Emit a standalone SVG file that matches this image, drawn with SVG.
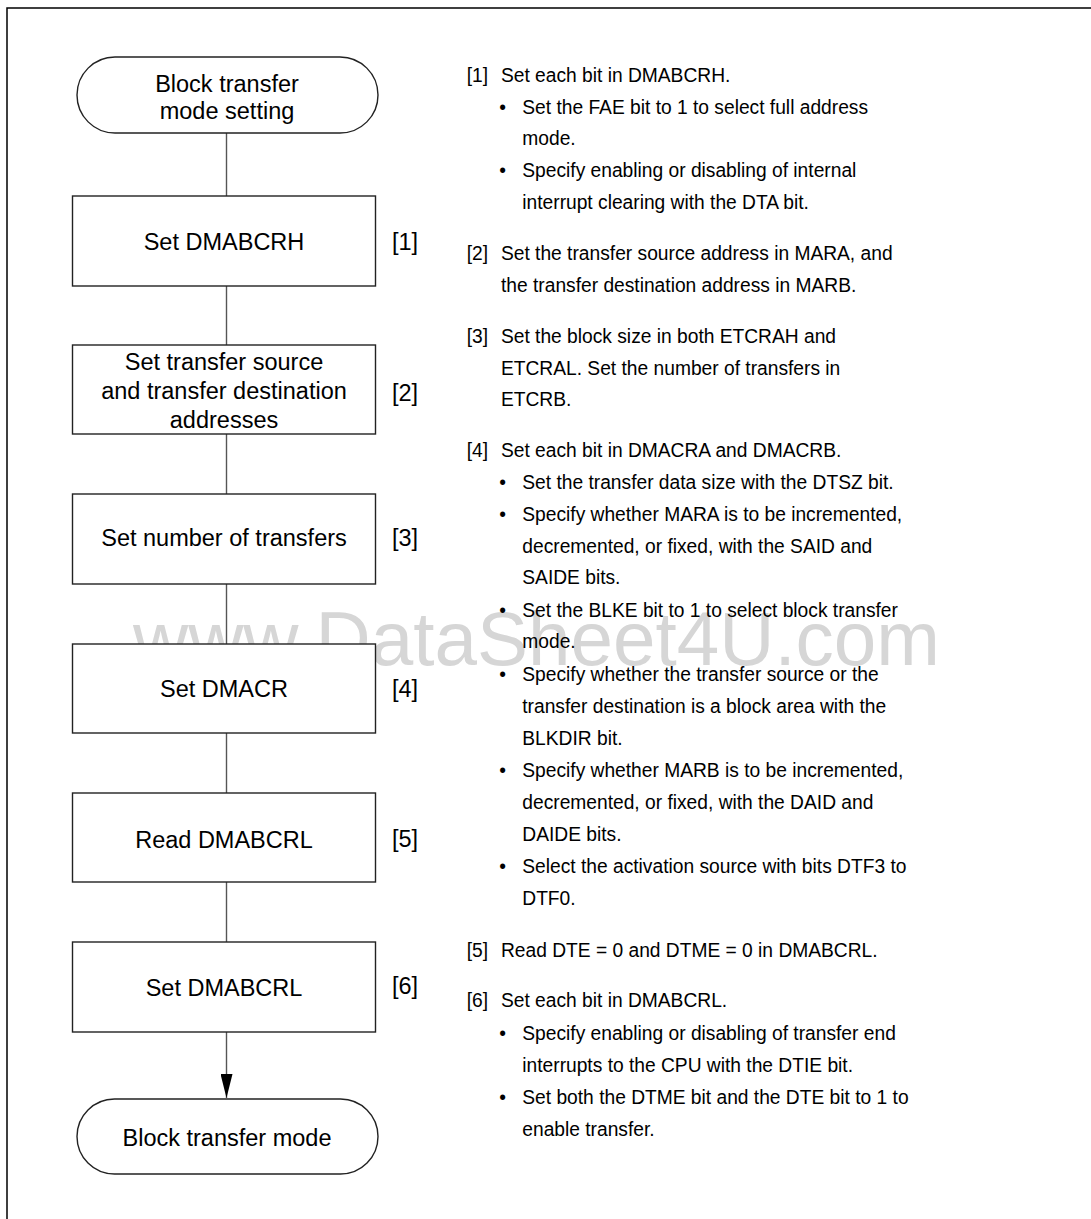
<svg xmlns="http://www.w3.org/2000/svg" width="1091" height="1219" viewBox="0 0 1091 1219">
<style>
.bg{fill:#ffffff}
.frame{stroke:#000;stroke-width:1.5;fill:none}
.wm{font-family:"Liberation Sans",Arial,sans-serif;font-size:76px;fill:#d6d6d6}
.box{fill:#fff;stroke:#222;stroke-width:1.4}
.lbl{font-family:"Liberation Sans",Arial,sans-serif;font-size:23.5px;fill:#000;text-anchor:middle}
.num{font-family:"Liberation Sans",Arial,sans-serif;font-size:23.5px;fill:#000}
.conn{stroke:#555;stroke-width:1.4;fill:none}
.rt{font-family:"Liberation Sans",Arial,sans-serif;font-size:21px;fill:#000}
</style>
<defs>
<marker id="arr" viewBox="0 0 24 12" refX="24" refY="6" markerWidth="24" markerHeight="12" markerUnits="userSpaceOnUse" orient="auto">
<path d="M0,0 L24,6 L0,12 Z" fill="#000"/>
</marker>
</defs>
<rect class="bg" x="0" y="0" width="1091" height="1219"/>
<path class="frame" d="M7,1219 V8 H1091"/>
<text class="wm" x="133" y="665" textLength="807" lengthAdjust="spacingAndGlyphs">www.DataSheet4U.com</text>

<g id="connectors">
<line class="conn" x1="226.5" y1="133" x2="226.5" y2="196"/>
<line class="conn" x1="226.5" y1="286" x2="226.5" y2="345"/>
<line class="conn" x1="226.5" y1="434" x2="226.5" y2="494"/>
<line class="conn" x1="226.5" y1="584" x2="226.5" y2="644"/>
<line class="conn" x1="226.5" y1="733" x2="226.5" y2="793"/>
<line class="conn" x1="226.5" y1="882" x2="226.5" y2="942"/>
<line class="conn" x1="226.5" y1="1032" x2="226.5" y2="1098" marker-end="url(#arr)"/>
</g>

<g id="start">
<rect class="box" x="77" y="57" width="301" height="76" rx="38" ry="38"/>
<text class="lbl" x="227" y="92">Block transfer</text>
<text class="lbl" x="227" y="119">mode setting</text>
</g>
<g id="step1">
<rect class="box" x="72.5" y="196" width="303" height="90"/>
<text class="lbl" x="224" y="250">Set DMABCRH</text>
<text class="num" x="392" y="250">[1]</text>
</g>
<g id="step2">
<rect class="box" x="72.5" y="345" width="303" height="89"/>
<text class="lbl" x="224" y="370">Set transfer source</text>
<text class="lbl" x="224" y="399">and transfer destination</text>
<text class="lbl" x="224" y="428">addresses</text>
<text class="num" x="392" y="401">[2]</text>
</g>
<g id="step3">
<rect class="box" x="72.5" y="494" width="303" height="90"/>
<text class="lbl" x="224" y="546">Set number of transfers</text>
<text class="num" x="392" y="546">[3]</text>
</g>
<g id="step4">
<rect class="box" x="72.5" y="644" width="303" height="89"/>
<text class="lbl" x="224" y="697">Set DMACR</text>
<text class="num" x="392" y="697">[4]</text>
</g>
<g id="step5">
<rect class="box" x="72.5" y="793" width="303" height="89"/>
<text class="lbl" x="224" y="848">Read DMABCRL</text>
<text class="num" x="392" y="847">[5]</text>
</g>
<g id="step6">
<rect class="box" x="72.5" y="942" width="303" height="90"/>
<text class="lbl" x="224" y="996">Set DMABCRL</text>
<text class="num" x="392" y="994">[6]</text>
</g>
<g id="end">
<rect class="box" x="77" y="1099" width="301" height="75" rx="37.5" ry="37.5"/>
<text class="lbl" x="227" y="1146">Block transfer mode</text>
</g>

<g id="notes" transform="scale(0.915,1)">
<text class="rt" x="510" y="82">[1]</text>
<text class="rt" x="547.5" y="82">Set each bit in DMABCRH.</text>
<text class="rt" x="545.5" y="114">•</text>
<text class="rt" x="570.8" y="114">Set the FAE bit to 1 to select full address</text>
<text class="rt" x="570.8" y="145">mode.</text>
<text class="rt" x="545.5" y="177">•</text>
<text class="rt" x="570.8" y="177">Specify enabling or disabling of internal</text>
<text class="rt" x="570.8" y="209">interrupt clearing with the DTA bit.</text>

<text class="rt" x="510" y="260">[2]</text>
<text class="rt" x="547.5" y="260">Set the transfer source address in MARA, and</text>
<text class="rt" x="547.5" y="292">the transfer destination address in MARB.</text>

<text class="rt" x="510" y="343">[3]</text>
<text class="rt" x="547.5" y="343">Set the block size in both ETCRAH and</text>
<text class="rt" x="547.5" y="375">ETCRAL. Set the number of transfers in</text>
<text class="rt" x="547.5" y="406">ETCRB.</text>

<text class="rt" x="510" y="457">[4]</text>
<text class="rt" x="547.5" y="457">Set each bit in DMACRA and DMACRB.</text>
<text class="rt" x="545.5" y="489">•</text>
<text class="rt" x="570.8" y="489">Set the transfer data size with the DTSZ bit.</text>
<text class="rt" x="545.5" y="521">•</text>
<text class="rt" x="570.8" y="521">Specify whether MARA is to be incremented,</text>
<text class="rt" x="570.8" y="553">decremented, or fixed, with the SAID and</text>
<text class="rt" x="570.8" y="584">SAIDE bits.</text>
<text class="rt" x="545.5" y="617">•</text>
<text class="rt" x="570.8" y="617">Set the BLKE bit to 1 to select block transfer</text>
<text class="rt" x="570.8" y="648">mode.</text>
<text class="rt" x="545.5" y="681">•</text>
<text class="rt" x="570.8" y="681">Specify whether the transfer source or the</text>
<text class="rt" x="570.8" y="713">transfer destination is a block area with the</text>
<text class="rt" x="570.8" y="745">BLKDIR bit.</text>
<text class="rt" x="545.5" y="777">•</text>
<text class="rt" x="570.8" y="777">Specify whether MARB is to be incremented,</text>
<text class="rt" x="570.8" y="809">decremented, or fixed, with the DAID and</text>
<text class="rt" x="570.8" y="841">DAIDE bits.</text>
<text class="rt" x="545.5" y="873">•</text>
<text class="rt" x="570.8" y="873">Select the activation source with bits DTF3 to</text>
<text class="rt" x="570.8" y="905">DTF0.</text>

<text class="rt" x="510" y="957">[5]</text>
<text class="rt" x="547.5" y="957">Read DTE = 0 and DTME = 0 in DMABCRL.</text>

<text class="rt" x="510" y="1007">[6]</text>
<text class="rt" x="547.5" y="1007">Set each bit in DMABCRL.</text>
<text class="rt" x="545.5" y="1040">•</text>
<text class="rt" x="570.8" y="1040">Specify enabling or disabling of transfer end</text>
<text class="rt" x="570.8" y="1072">interrupts to the CPU with the DTIE bit.</text>
<text class="rt" x="545.5" y="1104">•</text>
<text class="rt" x="570.8" y="1104">Set both the DTME bit and the DTE bit to 1 to</text>
<text class="rt" x="570.8" y="1136">enable transfer.</text>
</g>
</svg>
